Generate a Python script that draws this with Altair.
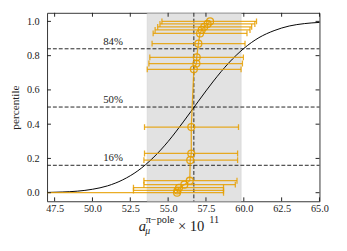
import altair as alt
import pandas as pd

# ---- data ----
x_ticks = [47.5, 50.0, 52.5, 55.0, 57.5, 60.0, 62.5, 65.0]
y_ticks = [0.0, 0.2, 0.4, 0.6, 0.8, 1.0]

curve_x = [47, 48, 49, 50, 51, 52, 53, 54, 55, 56, 57, 58, 59, 60, 61, 62, 63, 64, 65]
curve_y = [0.0015, 0.004, 0.009, 0.020, 0.040, 0.075, 0.128, 0.203, 0.299, 0.413,
           0.534, 0.652, 0.757, 0.842, 0.905, 0.946, 0.973, 0.987, 0.994]

pt_x = [57.77, 57.61, 57.39, 57.22, 57.11, 57.00, 56.89, 56.87, 56.70,
        56.53, 56.53, 56.46, 56.43, 56.07, 55.72, 55.62, 55.59]
pt_y = [1.0, 0.985, 0.968, 0.95, 0.93, 0.87, 0.79, 0.754, 0.72,
        0.383, 0.229, 0.19, 0.07, 0.047, 0.029, 0.013, 0.0]
pt_lo = [54.59, 54.46, 54.31, 54.14, 54.01, 53.94, 53.79, 53.73, 53.62,
         53.44, 53.44, 53.40, 53.40, 53.40, 52.71, 52.71, 45.0]
pt_hi = [60.84, 60.73, 60.52, 60.41, 60.21, 60.08, 59.97, 59.91, 59.82,
         59.65, 59.59, 59.59, 59.55, 59.44, 58.66, 58.66, 58.66]

band_lo = [53.62]
band_hi = [59.82]
center_x = [56.70]
pct_levels = [0.16, 0.5, 0.84]
pct_labels = ["16%", "50%", "84%"]
pct_label_x = [51.36, 51.36, 51.36]

# ---- tables ----
curve = pd.DataFrame({"x": curve_x, "y": curve_y})
pts = pd.DataFrame({"x": pt_x, "y": pt_y, "lo": pt_lo, "hi": pt_hi, "idx": list(range(len(pt_x)))})
band = pd.DataFrame({"lo": band_lo, "hi": band_hi})
vline = pd.DataFrame({"x": center_x})
hlines = pd.DataFrame({"y": pct_levels, "label": pct_labels, "x": pct_label_x})
xt = pd.DataFrame({"v": x_ticks})
yt = pd.DataFrame({"v": y_ticks})
one = pd.DataFrame({"a": [0]})

FONT = "Liberation Serif"
ORANGE = "#E69F00"
W, H = 279, 193

xs = alt.Scale(domain=[47, 65], nice=False, zero=False)
ys = alt.Scale(domain=[-0.05, 1.05], nice=False, zero=False)
x_axis = alt.Axis(values=x_ticks, format=".1f", ticks=False, domain=False, grid=False,
                  labelFont=FONT, labelFontSize=10.5, labelColor="#222", labelPadding=3,
                  labelFlush=False, labelOverlap=False, title=None)
y_axis = alt.Axis(values=y_ticks, format=".1f", ticks=False, domain=False, grid=False,
                  labelFont=FONT, labelFontSize=10.5, labelColor="#222", labelPadding=8,
                  labelFlush=False, labelOverlap=False,
                  title="percentile", titleFont=FONT, titleFontSize=11.5, titleFontWeight="normal",
                  titleColor="#222", titlePadding=6)

X = lambda f: alt.X(f, type="quantitative", scale=xs, axis=x_axis)
Y = lambda f: alt.Y(f, type="quantitative", scale=ys, axis=y_axis)

band_layer = alt.Chart(band).mark_rect(color="#d6d6d6", opacity=0.7, stroke="#c8c8c8", strokeWidth=0.8).encode(
    x=X("lo"), x2="hi", y=alt.value(0), y2=alt.value(H))

h_layer = alt.Chart(hlines).mark_rule(color="#222", strokeDash=[4, 2], strokeWidth=1).encode(
    y=Y("y"), x=alt.value(0), x2=alt.value(W))

v_layer = alt.Chart(vline).mark_rule(color="#222", strokeDash=[4, 2], strokeWidth=1).encode(
    x=X("x"), y=alt.value(0), y2=alt.value(H))

curve_layer = alt.Chart(curve).mark_line(color="black", strokeWidth=1, interpolate="monotone").encode(
    x=X("x"), y=Y("y"))

err_layer = alt.Chart(pts).mark_rule(color=ORANGE, opacity=0.85, strokeWidth=1.3, clip=True).encode(
    x=X("lo"), x2="hi", y=Y("y"))
capl = alt.Chart(pts).mark_tick(color=ORANGE, opacity=0.85, orient="vertical", size=6, thickness=1.3, clip=True).encode(
    x=X("lo"), y=Y("y"))
caph = alt.Chart(pts).mark_tick(color=ORANGE, opacity=0.85, orient="vertical", size=6, thickness=1.3, clip=True).encode(
    x=X("hi"), y=Y("y"))
conn = alt.Chart(pts).mark_line(color=ORANGE, opacity=0.85, strokeWidth=1.3).encode(
    x=X("x"), y=Y("y"), order="idx:Q")
circ = alt.Chart(pts).mark_point(shape="circle", filled=False, color=ORANGE, opacity=0.9, size=50, strokeWidth=1.3).encode(
    x=X("x"), y=Y("y"))

pct_text = alt.Chart(hlines).mark_text(font=FONT, fontSize=11, color="#222", baseline="bottom", align="center", dy=-2).encode(
    x=X("x"), y=Y("y"), text="label:N")

# inward ticks on all four sides
tb = alt.Chart(xt).mark_rule(color="#222").encode(x=X("v"), y=alt.value(H), y2=alt.value(H - 4))
tt = alt.Chart(xt).mark_rule(color="#222").encode(x=X("v"), y=alt.value(0), y2=alt.value(4))
tl = alt.Chart(yt).mark_rule(color="#222").encode(y=Y("v"), x=alt.value(0), x2=alt.value(4))
tr = alt.Chart(yt).mark_rule(color="#222").encode(y=Y("v"), x=alt.value(W), x2=alt.value(W - 4))

# x-axis title composed of pieces: a_mu^{pi-pole} x 10^{11}
def piece(txt, px, py, size, italic=False):
    return alt.Chart(one).mark_text(text=txt, font=FONT, fontSize=size, color="#222",
                                    fontStyle="italic" if italic else "normal",
                                    align="left", baseline="alphabetic").encode(
        x=alt.value(px), y=alt.value(py))

title_layers = [
    piece("a", 94, 223, 15, True),
    piece("μ", 100.5, 227, 10, True),
    piece("π−pole", 101, 215, 10.5, False),
    piece("× 10", 134, 223, 15, False),
    piece("11", 166, 215, 10.5, False),
]

chart = alt.layer(
    band_layer, h_layer, v_layer, curve_layer,
    err_layer, capl, caph, conn, circ, pct_text,
    tb, tt, tl, tr, *title_layers
).properties(
    width=W, height=H,
    autosize=alt.AutoSizeParams(type="none"),
    padding={"left": 40, "top": 2, "right": 20, "bottom": 48},
).configure_view(stroke="#333", strokeWidth=1)

chart.save("out.html", embed_options={"renderer": "svg", "actions": False})
